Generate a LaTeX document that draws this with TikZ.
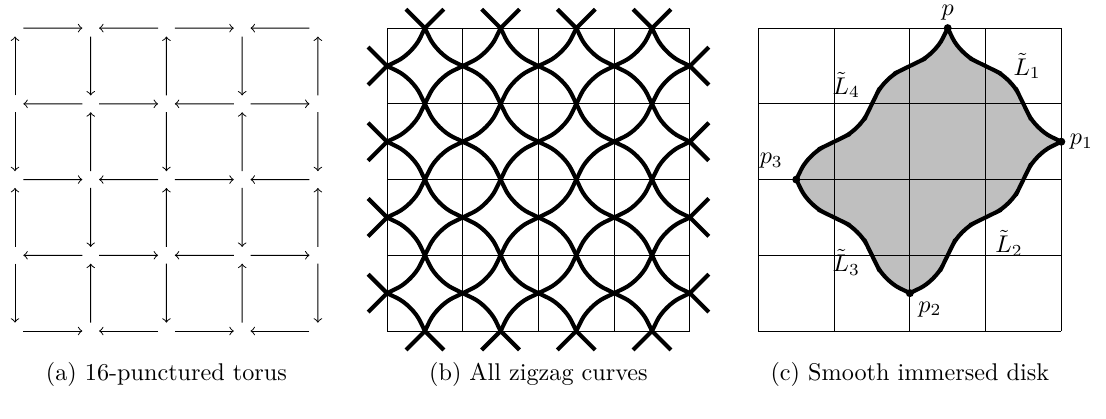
\documentclass[tikz,border=0pt]{standalone}
\usepackage{tikz}

\tikzset{
  hole/.style={circle,inner sep=0pt,minimum size=2.3mm},
  zig/.style={line width=1.7pt,line join=round},
  wave/.style={zig,rounded corners=7pt},
  lab/.style={inner sep=1pt},
}

\begin{document}
\begin{tikzpicture}[scale=1.1]
  \useasboundingbox (-0.198,-1.162) rectangle (14.41,4.372);

  % (a) torus with punctures
  \foreach \i in {0,...,4}
    \foreach \j in {0,...,4}
      \node[hole] (t-\i-\j) at (\i,\j) {};
  \foreach \i in {0,...,3}
    \foreach \j in {0,...,4} {
      \pgfmathtruncatemacro{\k}{\i+1}
      \ifodd\numexpr\i+\j\relax
        \draw[->] (t-\k-\j) -- (t-\i-\j);
      \else
        \draw[->] (t-\i-\j) -- (t-\k-\j);
      \fi
    }
  \foreach \i in {0,...,4}
    \foreach \j in {0,...,3} {
      \pgfmathtruncatemacro{\k}{\j+1}
      \ifodd\numexpr\i+\j\relax
        \draw[->] (t-\i-\j) -- (t-\i-\k);
      \else
        \draw[->] (t-\i-\k) -- (t-\i-\j);
      \fi
    }
  \node (capa) at (2,-.58) {(a) 16-punctured torus};

  % (b) zigzag curves
  \begin{scope}[shift={(4.914,0)}]
    \draw (0,0) grid (4,4);
    \foreach \i in {0,...,3}
      \foreach \j in {0,...,3} {
        \draw[wave] (\i+.5,\j+1) -- (\i+.336,\j+.664) -- (\i,\j+.5);
        \draw[wave] (\i,\j+.5) -- (\i+.336,\j+.336) -- (\i+.5,\j);
        \draw[wave] (\i+.5,\j) -- (\i+.664,\j+.336) -- (\i+1,\j+.5);
        \draw[wave] (\i+1,\j+.5) -- (\i+.664,\j+.664) -- (\i+.5,\j+1);
      }
    \foreach \k in {0.5,1.5,2.5,3.5} {
      \draw[zig] (\k-.25,4.25) -- (\k,4) -- (\k+.25,4.25);
      \draw[zig] (\k-.25,-.25) -- (\k,0) -- (\k+.25,-.25);
      \draw[zig] (-.25,\k-.25) -- (0,\k) -- (-.25,\k+.25);
      \draw[zig] (4.25,\k-.25) -- (4,\k) -- (4.25,\k+.25);
    }
    \node (capb) at (2,-.58) {(b) All zigzag curves};
  \end{scope}

  % (c) immersed disk
  \begin{scope}[shift={(9.819,0)}]
    \coordinate (p) at (2.5,4);
    \coordinate (p1) at (4,2.5);
    \coordinate (p2) at (2,.5);
    \coordinate (p3) at (.5,2);
    \draw[zig,fill=black!25] (p) [rounded corners=7pt]
      -- (2.664,3.664) -- (3,3.5) -- (3.336,3.336) -- (3.5,3) -- (3.664,2.664)
      [sharp corners] -- (p1) [rounded corners=7pt]
      -- (3.664,2.336) -- (3.5,2) -- (3.336,1.664) -- (3,1.5) -- (2.664,1.336) -- (2.5,1) -- (2.336,.664)
      [sharp corners] -- (p2) [rounded corners=7pt]
      -- (1.664,.664) -- (1.5,1) -- (1.336,1.336) -- (1,1.5) -- (.664,1.664)
      [sharp corners] -- (p3) [rounded corners=7pt]
      -- (.664,2.336) -- (1,2.5) -- (1.336,2.664) -- (1.5,3) -- (1.664,3.336) -- (2,3.5) -- (2.336,3.664)
      [sharp corners] -- (p) -- cycle;
    \draw (0,0) grid (4,4);
    \foreach \q in {p,p1,p2,p3}
      \fill (\q) circle (1.5pt);
    \node[lab] (lp) at (2.5,4.2) {$p$};
    \node[right] (lp1) at (p1) {$p_1$};
    \node[below right] (lp2) at (p2) {$p_2$};
    \node[lab] (lp3) at (.17,2.25) {$p_3$};
    \node[lab] (l1) at (3.55,3.5) {$\tilde{L}_1$};
    \node[lab] (l2) at (3.31,1.16) {$\tilde{L}_2$};
    \node[lab] (l3) at (1.16,.91) {$\tilde{L}_3$};
    \node[lab] (l4) at (1.16,3.25) {$\tilde{L}_4$};
    \node (capc) at (2,-.58) {(c) Smooth immersed disk};
  \end{scope}
\end{tikzpicture}
\end{document}
